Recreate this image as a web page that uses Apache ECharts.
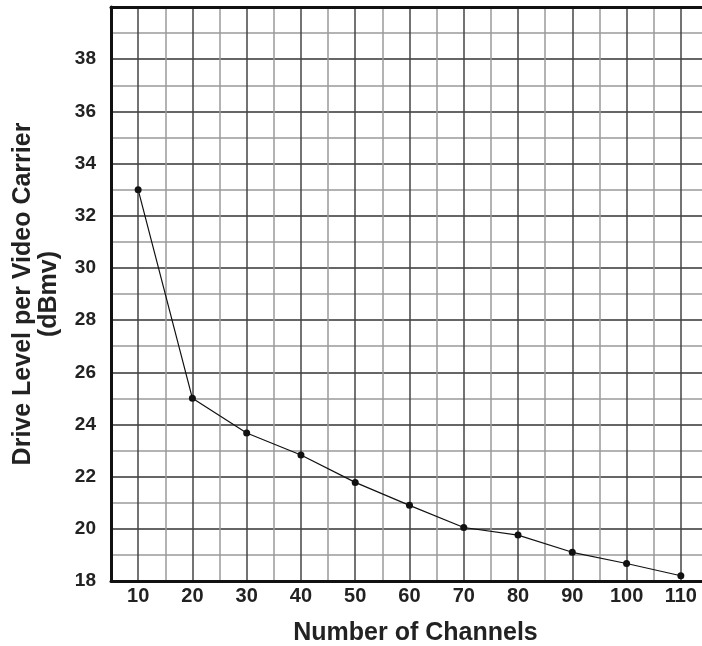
<!DOCTYPE html>
<html>
<head>
<meta charset="utf-8">
<script src="https://cdn.jsdelivr.net/npm/echarts@6/dist/echarts.min.js"></script>
<style>
html,body{margin:0;padding:0;background:#fff;}
#chart{width:702px;height:646px;}
</style>
</head>
<body>
<div id="chart"></div>
<script>
var channels = [10, 20, 30, 40, 50, 60, 70, 80, 90, 100, 110];
var driveLevel = [33.0, 25.0, 23.67, 22.83, 21.78, 20.9, 20.05, 19.76, 19.1, 18.67, 18.2];
var xTitle = 'Number of Channels';
var yTitle = 'Drive Level per Video Carrier\n(dBmv)';

var fontFamily = 'Arial, "Liberation Sans", Helvetica, sans-serif';
var chart = echarts.init(document.getElementById('chart'), null, {renderer: 'canvas'});
chart.setOption({
  animation: false,
  backgroundColor: '#ffffff',
  grid: {
    left: 111, top: 7, bottom: 65, right: 0,
    show: false,
    containLabel: false,
    outerBoundsMode: 'none'
  },
  xAxis: [{
    type: 'value',
    min: 5, max: 113.9, interval: 5,
    name: xTitle,
    nameLocation: 'middle',
    nameGap: 40,
    nameTextStyle: {fontFamily: fontFamily, fontWeight: 'bold', fontSize: 25, color: '#222', padding: [0, 0, 0, 18]},
    axisLine: {show: true, lineStyle: {color: '#111', width: 3}},
    axisTick: {show: false},
    axisLabel: {
      fontFamily: fontFamily, fontWeight: 'bold', fontSize: 20, color: '#222', margin: 5,
      showMinLabel: false, showMaxLabel: false,
      formatter: function (v) { return v % 10 === 0 ? String(v) : ''; }
    },
    splitLine: {show: true, showMaxLine: false, lineStyle: {color: ['#9a9a9a', '#444444'], width: 1.5}}
  }, {
    type: 'value',
    position: 'top',
    min: 5, max: 113.9,
    axisLine: {show: true, lineStyle: {color: '#111', width: 3}},
    axisTick: {show: false},
    axisLabel: {show: false},
    splitLine: {show: false}
  }],
  yAxis: {
    type: 'value',
    min: 18, max: 40, interval: 1,
    name: yTitle,
    nameLocation: 'middle',
    nameRotate: 90,
    nameGap: 49,
    nameTextStyle: {fontFamily: fontFamily, fontWeight: 'bold', fontSize: 25, color: '#222', lineHeight: 26},
    axisLine: {show: true, lineStyle: {color: '#111', width: 3}},
    axisTick: {show: false},
    axisLabel: {
      fontFamily: fontFamily, fontWeight: 'bold', fontSize: 19, color: '#222', margin: 15,
      formatter: function (v) { return (v % 2 === 0 && v < 40) ? String(v) : ''; }
    },
    splitLine: {show: true, showMaxLine: false, lineStyle: {color: ['#333333', '#9a9a9a'], width: 1.5}}
  },
  series: [{
    type: 'line',
    data: channels.map(function (c, i) { return [c, driveLevel[i]]; }),
    lineStyle: {color: '#111', width: 1.2},
    itemStyle: {color: '#111'},
    symbol: 'circle',
    symbolSize: 7,
    z: 5
  }]
});
</script>
</body>
</html>
